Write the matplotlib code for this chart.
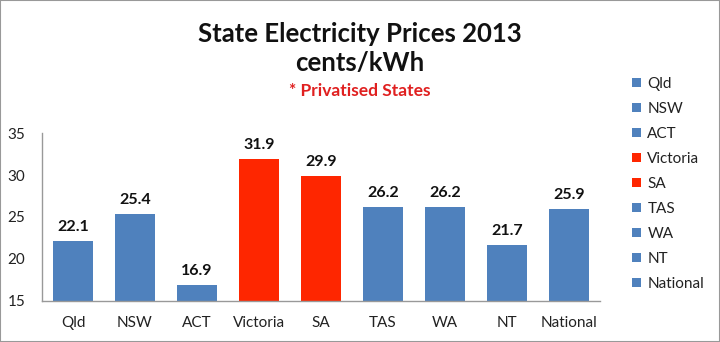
import matplotlib.pyplot as plt
from matplotlib.patches import Patch, Rectangle

states = ['Qld', 'NSW', 'ACT', 'Victoria', 'SA', 'TAS', 'WA', 'NT', 'National']
prices = [22.1, 25.4, 16.9, 31.9, 29.9, 26.2, 26.2, 21.7, 25.9]
privatised = ['Victoria', 'SA']

blue = '#4f81bd'
red = '#fe2600'
colors = [red if s in privatised else blue for s in states]

plt.rcParams['font.family'] = ['Lato', 'DejaVu Sans']

fig = plt.figure(figsize=(7.2, 3.42), dpi=100)
ax = fig.add_axes([42/720, 41/342, 558/720, 168/342])

x = range(len(states))
bars = ax.bar(x, prices, width=0.645, color=colors, bottom=0)
ax.bar_label(bars, labels=['%.1f' % p for p in prices], padding=5,
             fontsize=11.5, fontweight='bold', color='#111111')

ax.set_xlim(-0.5, len(states) - 0.5)
ax.set_ylim(15, 35)
ax.set_yticks([15, 20, 25, 30, 35])
ax.set_xticks(list(x))
ax.set_xticklabels(states)
ax.tick_params(axis='both', length=0, labelsize=11, colors='#222222')
ax.tick_params(axis='x', pad=11)
ax.tick_params(axis='y', pad=12)
for side in ['top', 'right']:
    ax.spines[side].set_visible(False)
for side in ['left', 'bottom']:
    ax.spines[side].set_color('#999999')
    ax.spines[side].set_linewidth(1)

fig.text(0.5, 1 - 34/342, 'State Electricity Prices 2013', ha='center', va='center',
         fontsize=18.5, fontweight='bold', color='#111111')
fig.text(0.5, 1 - 63/342, 'cents/kWh', ha='center', va='center',
         fontsize=18.5, fontweight='bold', color='#111111')
fig.text(0.5, 1 - 91/342, '* Privatised States', ha='center', va='center',
         fontsize=12.5, fontweight='bold', color='#e02020')

handles = [Patch(facecolor=c, edgecolor='none') for c in colors]
fig.legend(handles, states, loc='upper left', bbox_to_anchor=(632/720, 1 - 77/342),
           frameon=False, fontsize=11, handlelength=0.6, handleheight=0.6,
           handletextpad=0.4, labelspacing=0.72, borderpad=0, borderaxespad=0,
           labelcolor='#222222')

fig.patches.append(Rectangle((0, 0), 1, 1, transform=fig.transFigure, fill=False,
                             edgecolor='#999999', linewidth=1.5))

fig.savefig('out.png', dpi=100)
